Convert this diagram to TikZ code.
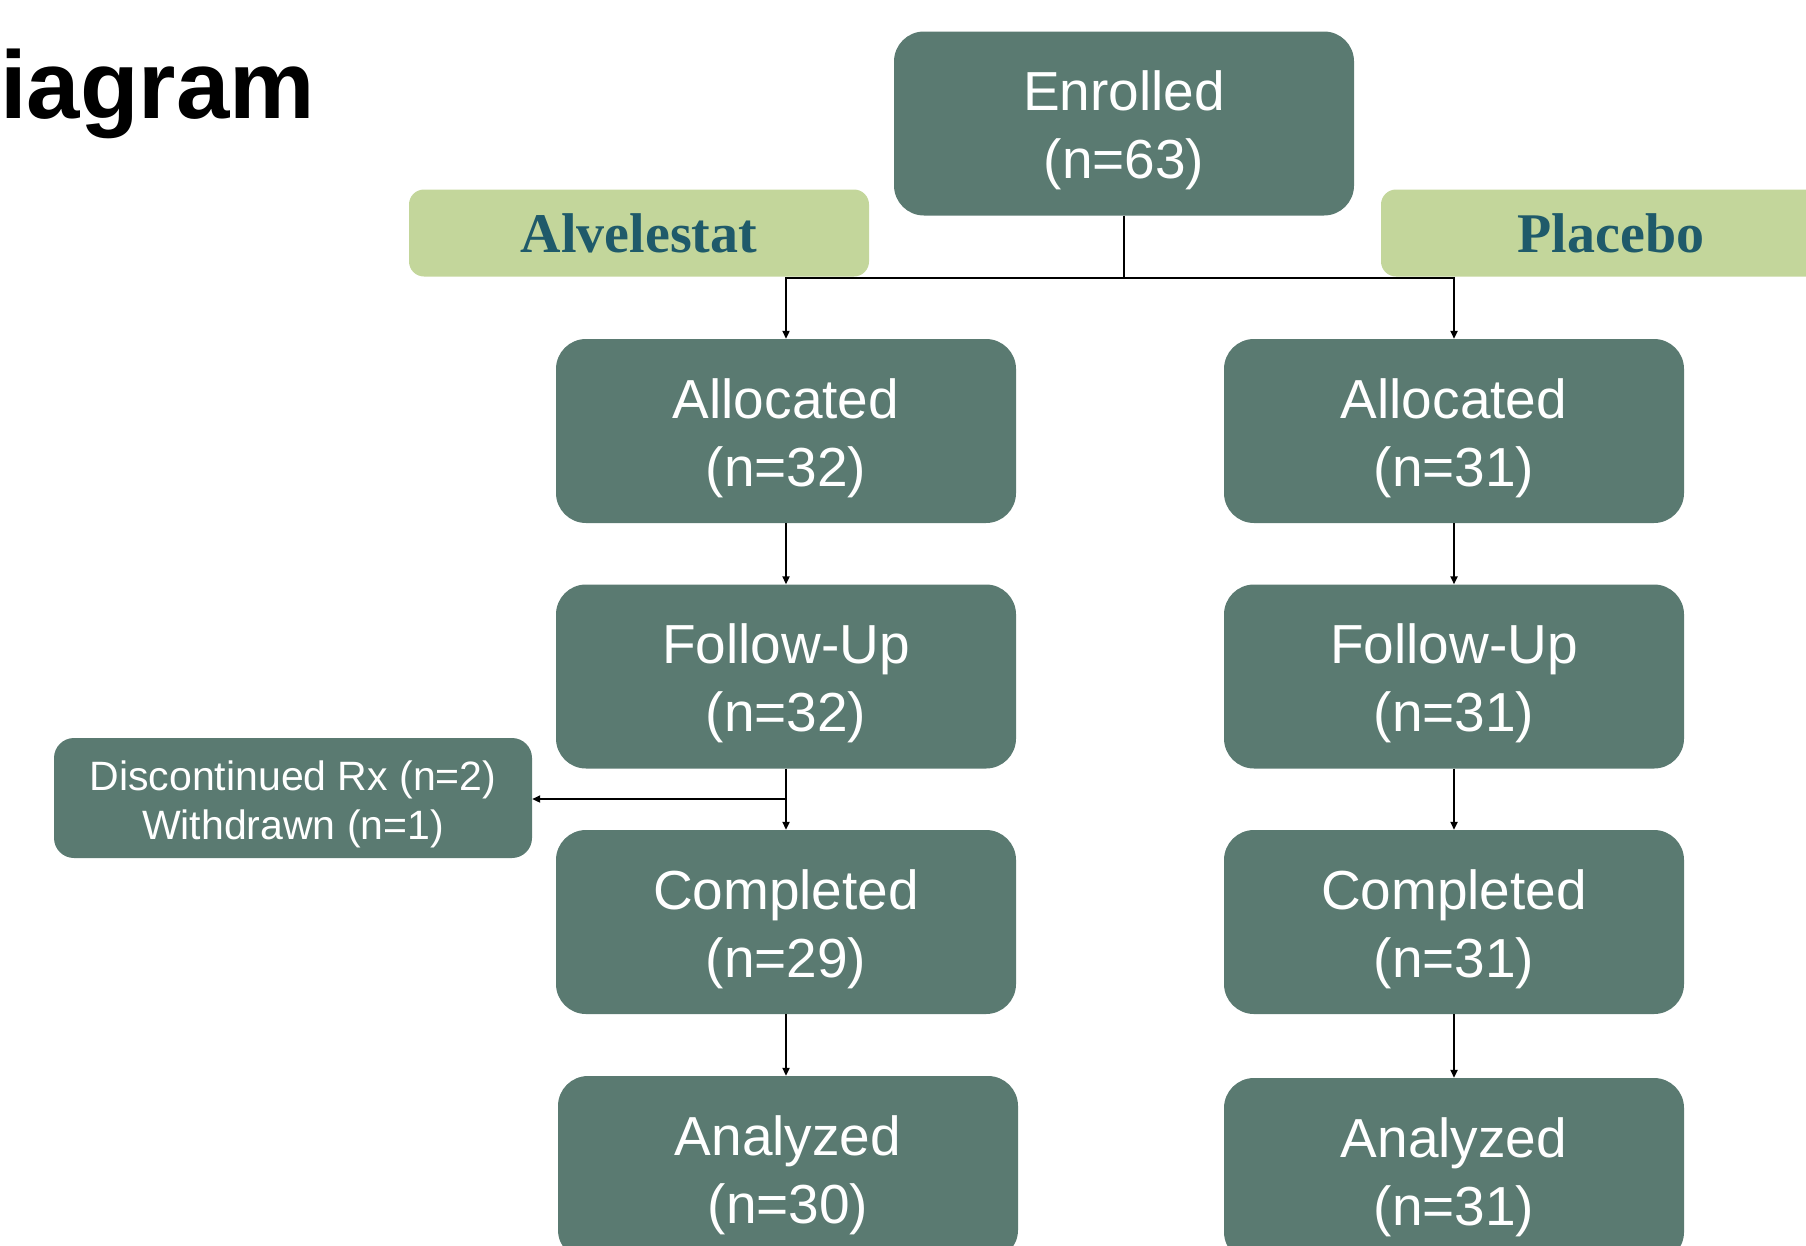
\documentclass[tikz,border=0pt]{standalone}
\usepackage{fontspec}
\setmainfont{Liberation Sans}
\newfontfamily\armfont{Liberation Serif}
\usetikzlibrary{arrows.meta, positioning}
\definecolor{boxgreen}{HTML}{5A7A71}
\definecolor{armgreen}{HTML}{C3D69B}
\definecolor{armtext}{HTML}{1F5A6A}
\tikzset{
  stagebox/.style={fill=boxgreen, text=white, rounded corners=30pt, inner sep=0pt,
    minimum width=460pt, minimum height=184pt, align=center,
    font=\fontsize{55}{68}\selectfont, text height=122pt, text depth=12pt},
  armbox/.style={fill=armgreen, text=armtext, rounded corners=15pt, inner sep=0pt,
    minimum width=460pt, minimum height=87pt, font=\armfont\bfseries\fontsize{56}{56}\selectfont},
  dropbox/.style={fill=boxgreen, text=white, rounded corners=20pt, inner sep=0pt,
    minimum width=478pt, minimum height=120pt, align=center,
    font=\fontsize{41}{49}\selectfont, text height=91pt, text depth=9pt},
  flow/.style={line width=2.5pt, -{Triangle[length=8pt,width=7pt]}}
}

\begin{document}
\begin{tikzpicture}[x=1pt,y=-1pt]
            \useasboundingbox (0,0) rectangle (1806,1245);
            \clip (0,0) rectangle (1806,1245);
            % Title (cut at the left edge)
            \node[anchor=base west, inner sep=0pt, font=\bfseries\fontsize{96}{96}\selectfont] (title) at (0,118) {iagram};
            % Arms
            \node[armbox] (armA) at (639,233) {Alvelestat};
            \node[armbox] (armB) at (1611,233) {Placebo};
            % Stages
            \node[stagebox] (enrolled) at (1124,123.5) {Enrolled\\(n=63)};
            \node[stagebox] (allocA) at (786,431) {Allocated\\(n=32)};
            \node[stagebox] (allocB) at (1454,431) {Allocated\\(n=31)};
            \node[stagebox] (followA) at (786,676.5) {Follow-Up\\(n=32)};
            \node[stagebox] (followB) at (1454,676.5) {Follow-Up\\(n=31)};
            \node[stagebox] (complA) at (786,922) {Completed\\(n=29)};
            \node[stagebox] (complB) at (1454,922) {Completed\\(n=31)};
            \node[stagebox] (analyA) at (788,1168) {Analyzed\\(n=30)};
            \node[stagebox] (analyB) at (1454,1170) {Analyzed\\(n=31)};
            \node[dropbox] (dropped) at (293,798) {Discontinued Rx (n=2)\\Withdrawn (n=1)};
            % Connectors
            \coordinate (fork) at (1124,278);
            \coordinate (split) at (786,799);
            \draw[line width=2.5pt] (enrolled.south) -- (fork);
            \draw[flow] (fork) -| (allocA.north);
            \draw[flow] (fork) -| (allocB.north);
            \draw[flow] (allocA) -- (followA);
            \draw[flow] (allocB) -- (followB);
            \draw[flow] (followA) -- (complA);
            \draw[flow] (followB) -- (complB);
            \draw[flow] (split) -- (split -| dropped.east);
            \draw[flow] (complA) -- (complA |- analyA.north);
            \draw[flow] (complB) -- (complB |- analyB.north);
        \end{tikzpicture}
\end{document}
